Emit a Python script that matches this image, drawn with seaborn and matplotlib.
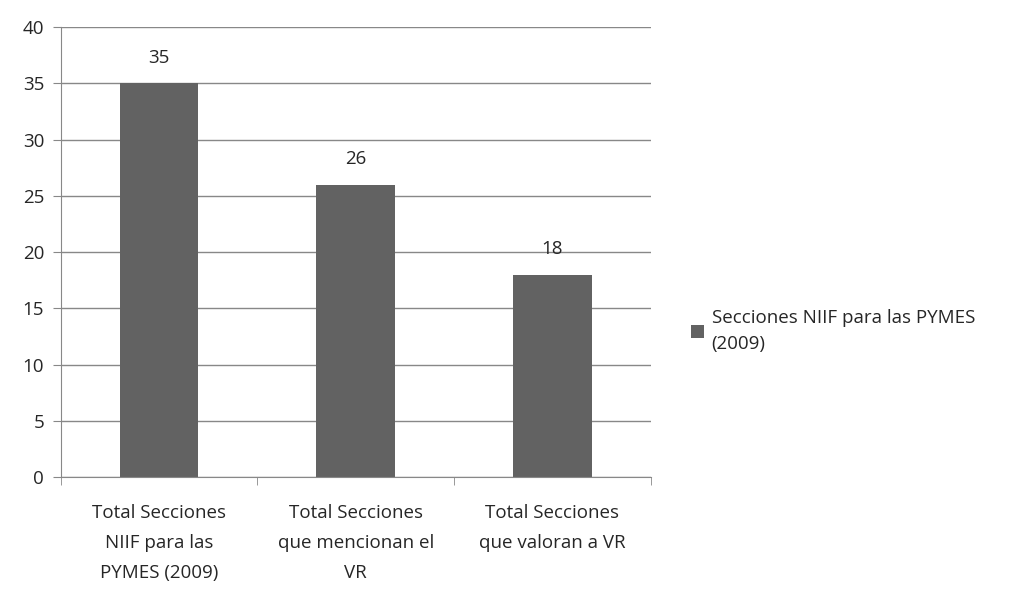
import pandas as pd
import seaborn as sns
import matplotlib.pyplot as plt

categories = ["Total Secciones\nNIIF para las\nPYMES (2009)",
              "Total Secciones\nque mencionan el\nVR",
              "Total Secciones\nque valoran a VR"]
values = [35, 26, 18]
series_name = "Secciones NIIF para las PYMES\n(2009)"

df = pd.DataFrame({"cat": categories, "val": values, "serie": series_name})

sns.set_style("white")
plt.rcParams['font.family'] = ['Open Sans', 'DejaVu Sans']

fig = plt.figure(figsize=(10.31, 5.89), dpi=100)
ax = fig.add_axes([0.059, 0.19, 0.572, 0.764])

sns.barplot(data=df, x="cat", y="val", hue="serie", palette=["#626262"],
            width=0.4, linewidth=0, ax=ax, legend=True)

ax.set_ylim(0, 40)
ax.set_yticks(range(0, 41, 5))
ax.set_xlim(-0.5, 2.5)
ax.yaxis.grid(True, color="#888888", linewidth=1)
ax.set_axisbelow(True)
ax.set_xlabel("")
ax.set_ylabel("")

for s in ["top", "right"]:
    ax.spines[s].set_visible(False)
for s in ["left", "bottom"]:
    ax.spines[s].set_color("#888888")

ax.tick_params(axis="y", left=True, length=6, color="#888888", labelsize=13.5, pad=6)
ax.tick_params(axis="x", bottom=False, labelsize=13.5, pad=16)
for t in ax.get_xticklabels():
    t.set_linespacing(1.85)

# ticks between categories on x axis
ax.set_xticks([-0.5, 0.5, 1.5, 2.5], minor=True)
ax.tick_params(axis="x", which="minor", bottom=True, length=6, color="#888888")

for c in ax.containers:
    ax.bar_label(c, padding=12, fontsize=13.5)

leg = ax.legend(loc="center left", bbox_to_anchor=(1.04, 0.325), frameon=False,
                fontsize=13.5, handlelength=0.7, handleheight=0.7, handletextpad=0.4)
for t in leg.get_texts():
    t.set_linespacing(1.6)

fig.savefig("out.png", dpi=100)
